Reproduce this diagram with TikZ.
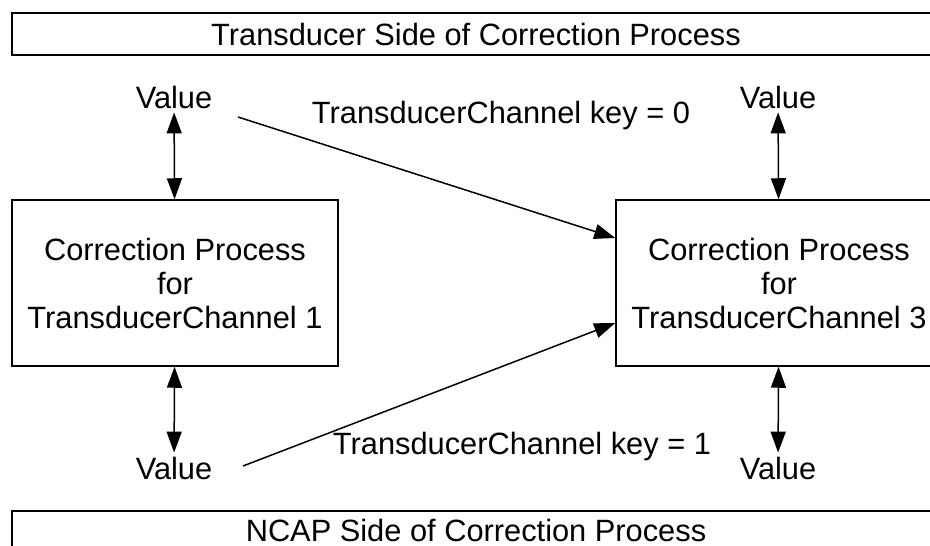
\documentclass[tikz,border=0pt]{standalone}
\usepackage{fontspec}
\setmainfont{Liberation Sans}
\usetikzlibrary{arrows.meta}

\begin{document}
\begin{tikzpicture}[x=1pt,y=-1pt,line width=1.5pt,
    font=\fontsize{30.8pt}{34pt}\selectfont,
    >={Triangle[length=21pt,width=15pt]},
    bar/.style={draw,minimum width=928pt,minimum height=42pt,inner sep=0pt},
    proc/.style={draw,align=center,minimum width=326pt,minimum height=166pt}]
        \path[use as bounding box] (0,0) rectangle (930,546);
        \clip (0,0) rectangle (930,546);
        \node[bar] (top) at (476,34) {Transducer Side of Correction Process};
        \node[bar,minimum height=38pt] (bot) at (476,530) {NCAP Side of Correction Process};
        \node[proc] (ch1) at (175,283) {Correction Process\\for\\TransducerChannel 1};
        \node[proc] (ch3) at (779,283) {Correction Process\\for\\TransducerChannel 3};
        \node (v1) at (174,97) {Value};
        \node (v3) at (778,97) {Value};
        \node (w1) at (174,468) {Value};
        \node (w3) at (778,468) {Value};
        \draw[<->] (v1) -- (ch1);
        \draw[<->] (v3) -- (ch3);
        \draw[<->] (ch1) -- (w1);
        \draw[<->] (ch3) -- (w3);
        \coordinate (k0) at (238,117);
        \coordinate (k1) at (243,466);
        \draw[->] (k0) -- ([yshift=45pt]ch3.west);
        \draw[->] (k1) -- ([yshift=-40pt]ch3.west);
        \node (key0) at (501,116) {TransducerChannel key = 0};
        \node (key1) at (522,447) {TransducerChannel key = 1};
      \end{tikzpicture}
\end{document}
